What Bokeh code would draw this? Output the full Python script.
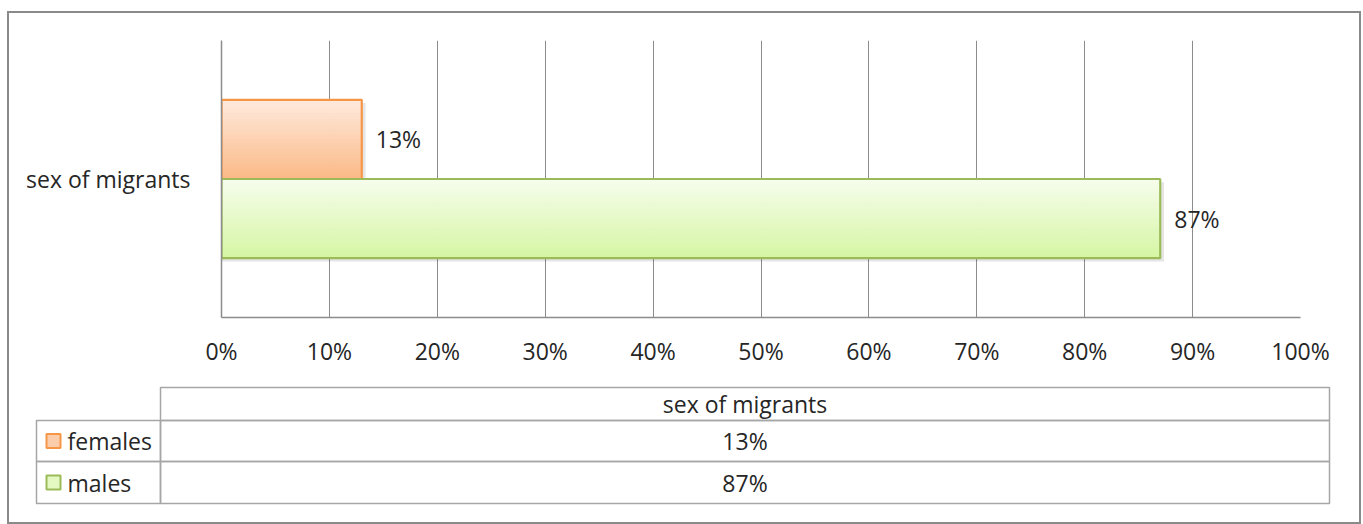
from bokeh.plotting import figure
from bokeh.layouts import column
from bokeh.models import Range1d, FixedTicker, ColumnDataSource, CustomJSTickFormatter
from bokeh.core.properties import value
from bokeh.embed import file_html
from bokeh.resources import INLINE

# ---- data ----
category = ["sex of migrants"]
series_names = ["females", "males"]
series_values = [13, 87]            # percent
x_ticks = [0, 10, 20, 30, 40, 50, 60, 70, 80, 90, 100]

FONT = "Open Sans"
FS = "23px"
TXT = "#262626"
GRID = "#8c8c8c"
fills_top = ["#fee9dc", "#f6fdec"]
fills_bot = ["#fbba88", "#d6f6a4"]
edges = ["#f79646", "#9bbb59"]
offsets = [0.143, -0.143]
BAR_H = 0.286

W = 1350
ox, oy = 9, 13          # page position of the content origin (inside the border)
H1 = 362
H2 = 147

def lerp(c1, c2, t):
    a = [int(c1[i:i + 2], 16) for i in (1, 3, 5)]
    b = [int(c2[i:i + 2], 16) for i in (1, 3, 5)]
    return "#%02x%02x%02x" % tuple(round(a[k] + (b[k] - a[k]) * t) for k in range(3))

# ---- chart ----
p1 = figure(width=W, height=H1, output_backend="svg", toolbar_location=None,
            x_range=Range1d(0, 100), y_range=Range1d(0, 1),
            min_border_left=221 - ox, min_border_right=W - (1300 - ox),
            min_border_top=40 - oy, min_border_bottom=H1 - (317 - oy))
p1.frame_align = False
p1.outline_line_color = None
p1.background_fill_color = "white"
p1.border_fill_color = "white"

# shadows
for v, off in zip(series_values, offsets):
    p1.hbar(y=[0.5 + off - 0.012], left=[0], right=[v + 0.35], height=BAR_H,
            fill_color="#000000", fill_alpha=0.10, line_color=None)

# gradient bars (strips)
N = 24
for v, off, ct, cb, ec in zip(series_values, offsets, fills_top, fills_bot, edges):
    yc = 0.5 + off
    top = yc + BAR_H / 2
    for i in range(N):
        y0 = top - BAR_H * i / N
        y1 = top - BAR_H * (i + 1) / N
        p1.hbar(y=[(y0 + y1) / 2], left=[0], right=[v], height=BAR_H / N + 0.002,
                fill_color=lerp(ct, cb, i / (N - 1)), line_color=None)
    p1.hbar(y=[yc], left=[0], right=[v], height=BAR_H, fill_color=None,
            line_color=ec, line_width=2.2)

# data labels
lab_src = ColumnDataSource(dict(x=series_values, y=[0.5 + o for o in offsets],
                                t=["%d%%" % v for v in series_values]))
p1.text(x="x", y="y", text="t", source=lab_src, x_offset=14,
        text_font=value(FONT), text_font_size=FS, text_color=TXT,
        text_align="left", text_baseline="middle")

# axes
p1.xaxis.ticker = FixedTicker(ticks=x_ticks)
p1.xaxis.formatter = CustomJSTickFormatter(code="return tick + '%'")
p1.xaxis.major_tick_line_color = None
p1.xaxis.major_tick_out = 0
p1.xaxis.major_tick_in = 0
p1.xaxis.minor_tick_line_color = None
p1.xaxis.axis_line_color = GRID
p1.xaxis.axis_line_width = 1.5
p1.xaxis.major_label_standoff = 17
p1.xaxis.major_label_text_font = FONT
p1.xaxis.major_label_text_font_size = FS
p1.xaxis.major_label_text_color = TXT

p1.yaxis.ticker = FixedTicker(ticks=[0.5])
p1.yaxis.major_label_overrides = {0.5: category[0]}
p1.yaxis.major_tick_line_color = None
p1.yaxis.major_tick_out = 0
p1.yaxis.major_tick_in = 0
p1.yaxis.minor_tick_line_color = None
p1.yaxis.axis_line_color = GRID
p1.yaxis.axis_line_width = 1.5
p1.yaxis.major_label_standoff = 31
p1.yaxis.major_label_text_font = FONT
p1.yaxis.major_label_text_font_size = FS
p1.yaxis.major_label_text_color = TXT
p1.yaxis.major_label_orientation = "horizontal"

p1.xgrid.grid_line_color = GRID
p1.xgrid.grid_line_width = 1
p1.xgrid.level = "underlay"
p1.ygrid.grid_line_color = None

# ---- data table ----
y_top2 = oy + H1
p2 = figure(width=W, height=H2, output_backend="svg", toolbar_location=None,
            x_range=Range1d(ox, ox + W), y_range=Range1d(y_top2 + H2, y_top2),
            min_border=0, min_border_left=0, min_border_right=0,
            min_border_top=0, min_border_bottom=0)
p2.frame_align = False
p2.axis.visible = False
p2.grid.visible = False
p2.outline_line_color = None
p2.border_fill_color = "white"

TL = "#a6a6a6"
xl, xm, xr = 36, 160, 1329
yh, y1, y2, y3 = 387, 420, 461, 503
p2.quad(left=[xm], right=[xr], top=[yh], bottom=[y1], fill_color=None, line_color=TL, line_width=1.5)
p2.quad(left=[xl, xm, xl, xm], right=[xm, xr, xm, xr], top=[y1, y1, y2, y2],
        bottom=[y2, y2, y3, y3], fill_color=None, line_color=TL, line_width=1.5)

xc = (xm + xr) / 2
p2.text(x=[xc], y=[(yh + y1) / 2], text=category, text_font=value(FONT),
        text_font_size=FS, text_color=TXT, text_align="center", text_baseline="middle")
row_y = [(y1 + y2) / 2, (y2 + y3) / 2]
p2.text(x=[xc, xc], y=row_y, text=["%d%%" % v for v in series_values], text_font=value(FONT),
        text_font_size=FS, text_color=TXT, text_align="center", text_baseline="middle")
p2.text(x=[67, 67], y=row_y, text=series_names, text_font=value(FONT),
        text_font_size=FS, text_color=TXT, text_align="left", text_baseline="middle")
for yy, ct, cb, ec in zip(row_y, fills_top, fills_bot, edges):
    p2.quad(left=[46], right=[60], top=[yy - 7], bottom=[yy + 7],
            fill_color=lerp(ct, cb, 0.6), line_color=ec, line_width=2)

layout = column(p1, p2, styles={"border": "2px solid #8a8a8a",
                                "margin-left": "7px", "margin-top": "11px"})

open("out.html", "w").write(file_html(layout, INLINE))
